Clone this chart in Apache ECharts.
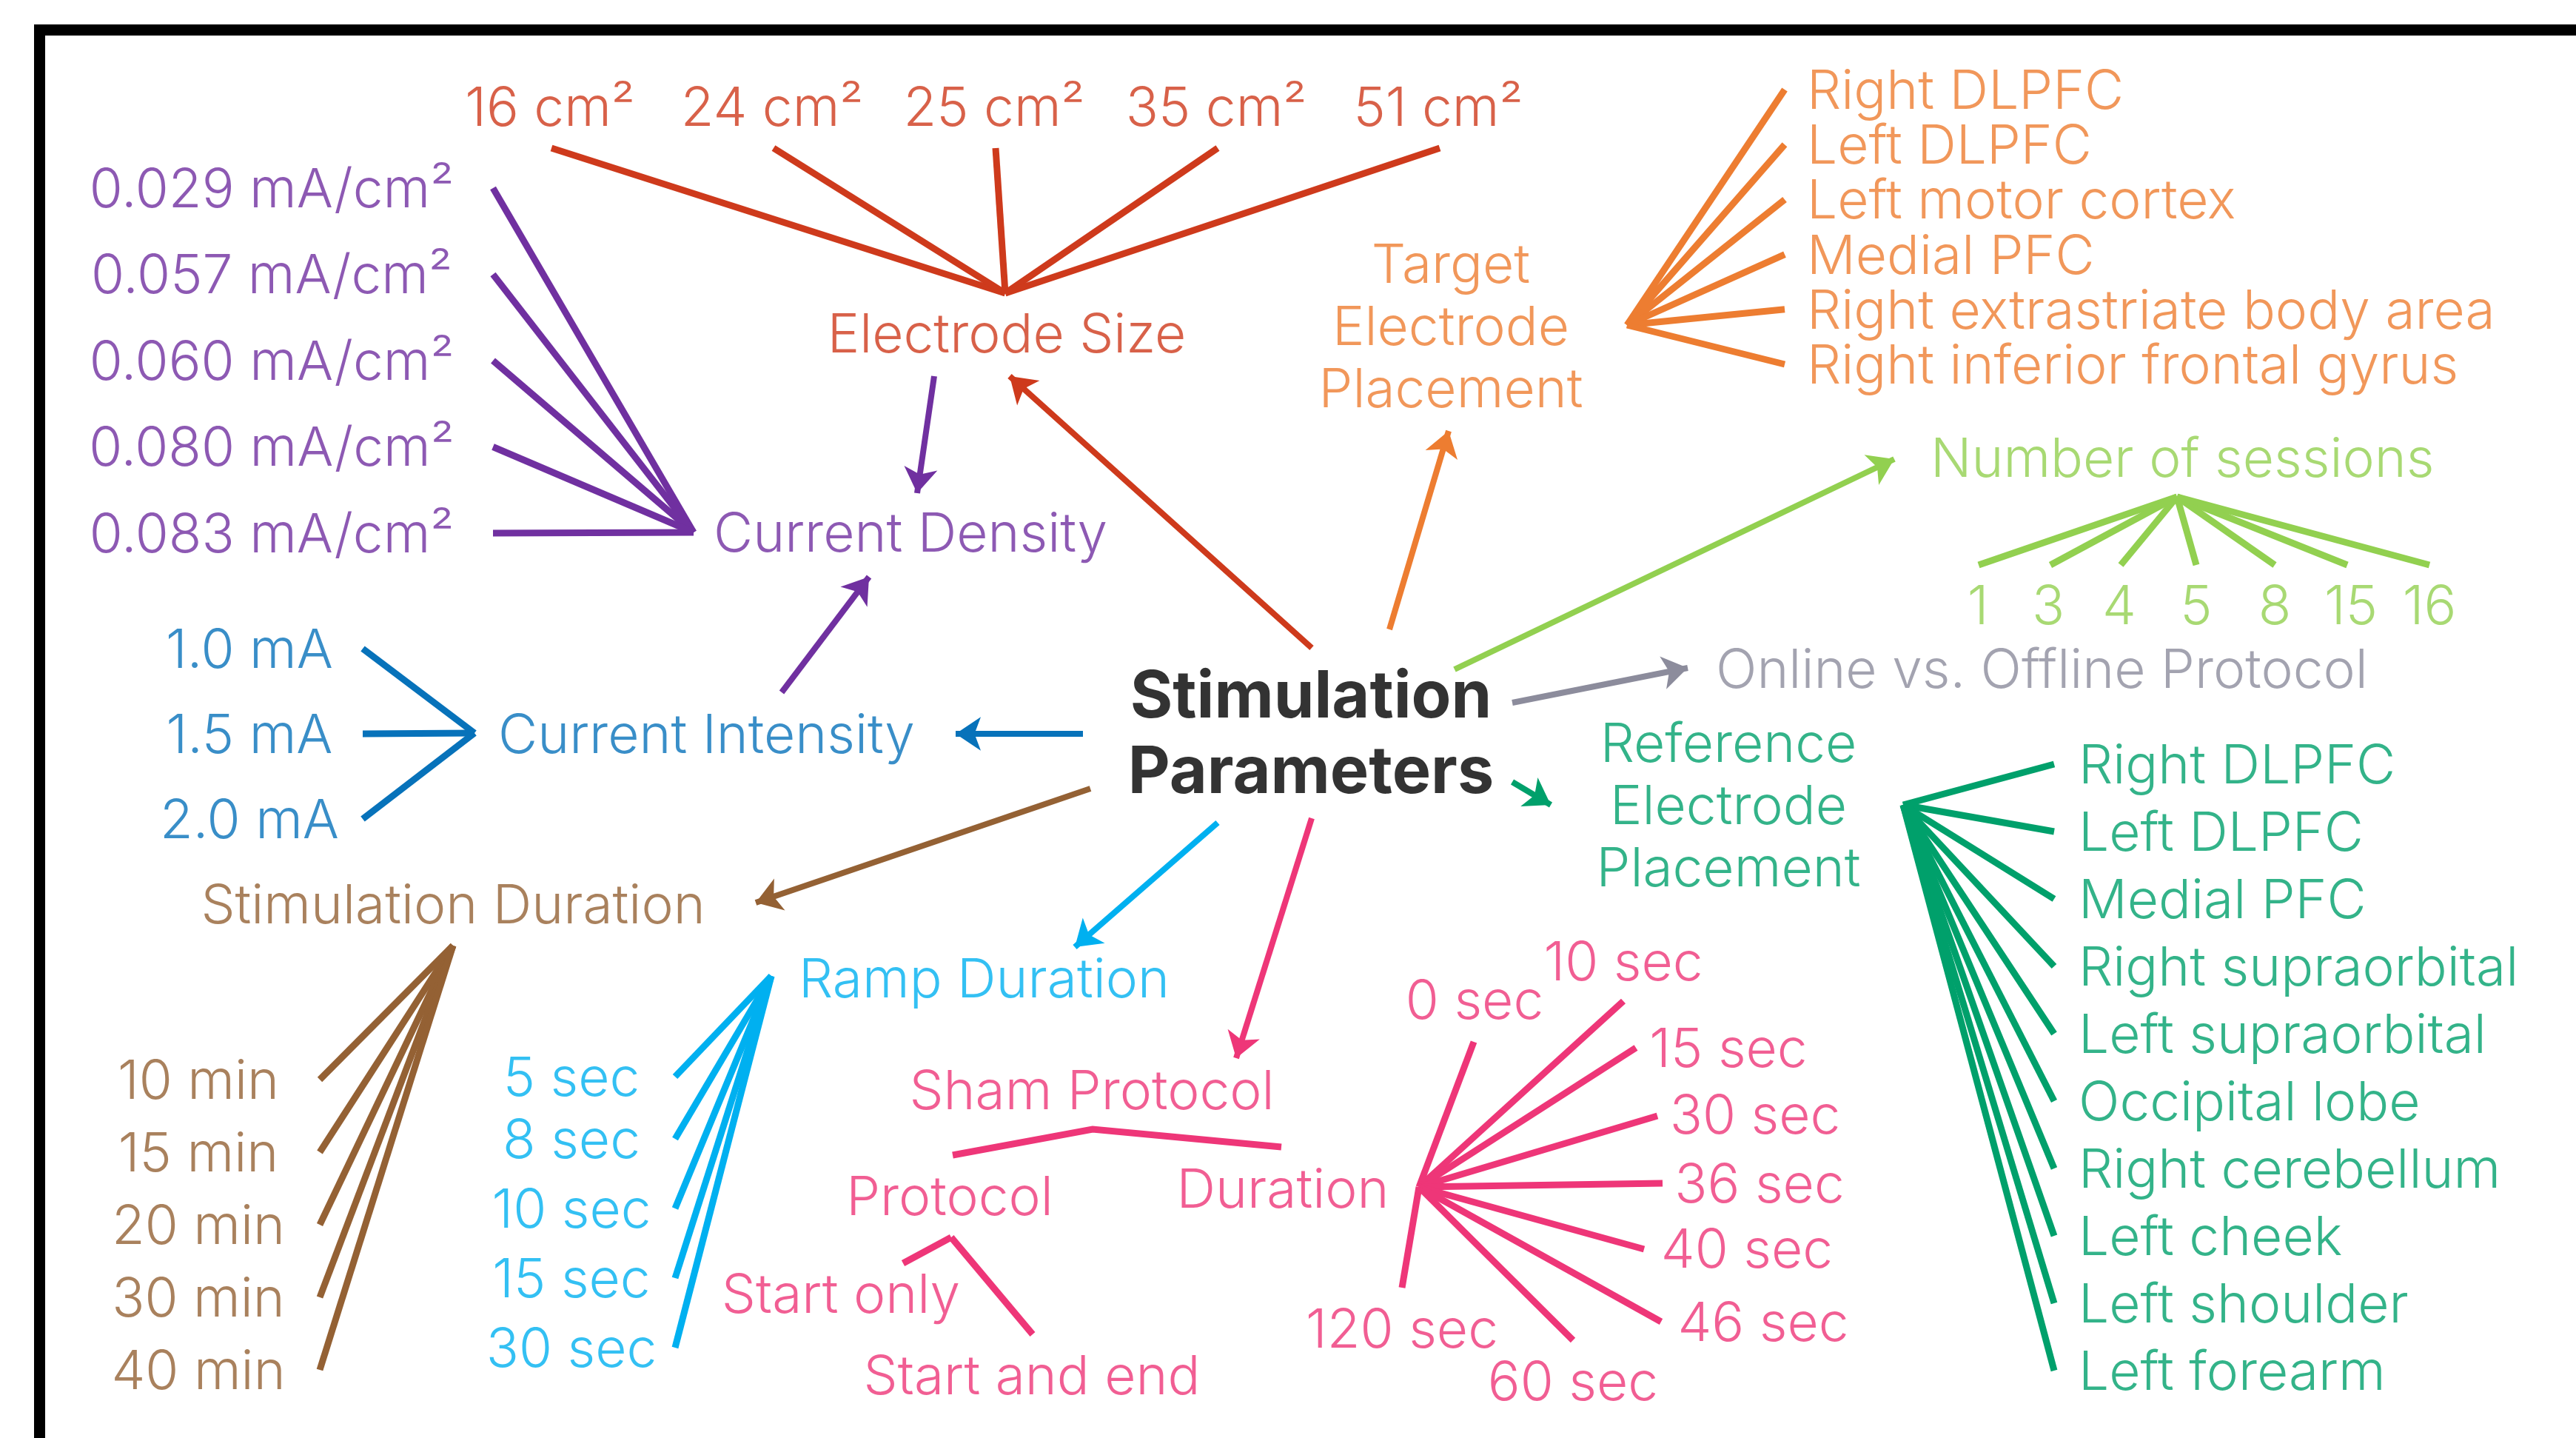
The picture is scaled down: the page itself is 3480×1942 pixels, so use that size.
<!DOCTYPE html>
<html>
<head>
<meta charset="utf-8">
<title>Stimulation Parameters</title>
<script src="https://cdn.jsdelivr.net/npm/echarts@6/dist/echarts.min.js"></script>
<style>
  html, body { margin: 0; padding: 0; background: #fff; }
  #chart { width: 3480px; height: 1942px; }
</style>
</head>
<body>
<div id="chart"></div>
<script>
// labels
var electrodeSizes = ['16 cm²', '24 cm²', '25 cm²', '35 cm²', '51 cm²'];
var currentDensities = ['0.029 mA/cm²', '0.057 mA/cm²', '0.060 mA/cm²', '0.080 mA/cm²', '0.083 mA/cm²'];
var currentIntensities = ['1.0 mA', '1.5 mA', '2.0 mA'];
var targetSites = ['Right DLPFC', 'Left DLPFC', 'Left motor cortex', 'Medial PFC', 'Right extrastriate body area', 'Right inferior frontal gyrus'];
var sessionCounts = ['1', '3', '4', '5', '8', '15', '16'];
var referenceSites = ['Right DLPFC', 'Left DLPFC', 'Medial PFC', 'Right supraorbital', 'Left supraorbital', 'Occipital lobe', 'Right cerebellum', 'Left cheek', 'Left shoulder', 'Left forearm'];
var stimDurations = ['10 min', '15 min', '20 min', '30 min', '40 min'];
var rampDurations = ['5 sec', '8 sec', '10 sec', '15 sec', '30 sec'];
var shamProtocols = ['Start only', 'Start and end'];
var shamDurations = ['0 sec', '10 sec', '15 sec', '30 sec', '36 sec', '40 sec', '46 sec', '60 sec', '120 sec'];

// colours
var RED = '#CE3A1C', PURPLE = '#7030A0', BLUE = '#0772BA', ORANGE = '#ED7D31',
    LGREEN = '#92D050', GRAY = '#8C8C9C', TEAL = '#00A06B', BROWN = '#946134',
    LBLUE = '#00B0F0', PINK = '#EE3678';

var FONT = 'Inter';
var FS = 73;

function seq(a, step, n) {
  var out = [];
  for (var i = 0; i < n; i++) out.push(a + i * step);
  return out;
}
function pick(v, i) { return Array.isArray(v) ? v[i] : v; }

// layout in canvas pixels (x right, y down)
var fans = [
  { labels: electrodeSizes, color: RED, hub: [1358, 396], align: 'center',
    labelX: seq(743, 300, 5), labelY: 144, tipX: seq(745, 300, 5), tipY: 200 },
  { labels: currentDensities, color: PURPLE, hub: [937, 719], align: 'center',
    labelX: 367, labelY: seq(254, 116.5, 5), tipX: 666, tipY: seq(254, 116.5, 5) },
  { labels: currentIntensities, color: BLUE, hub: [641, 990], align: 'center',
    labelX: 337, labelY: seq(876, 115, 3), tipX: 490, tipY: seq(876, 115, 3) },
  { labels: targetSites, color: ORANGE, hub: [2198, 439], align: 'left',
    labelX: 2441, labelY: seq(121, 74.2, 6), tipX: 2411, tipY: seq(121, 74.2, 6) },
  { labels: sessionCounts, color: LGREEN, hub: [2941, 671], align: 'center',
    labelX: [2672, 2767, 2863, 2967, 3073, 3176, 3282], labelY: 817,
    tipX: [2673, 2770, 2865, 2967, 3073, 3171, 3282], tipY: 763 },
  { labels: referenceSites, color: TEAL, hub: [2571, 1087], align: 'left',
    labelX: 2808, labelY: seq(1032, 91, 10), tipX: 2775, tipY: seq(1032, 91, 10) },
  { labels: stimDurations, color: BROWN, hub: [612, 1277], align: 'center',
    labelX: 268, labelY: seq(1458, 98, 5), tipX: 432, tipY: seq(1458, 98, 5) },
  { labels: rampDurations, color: LBLUE, hub: [1042, 1318], align: 'center',
    labelX: 772, labelY: [1454, 1538, 1632, 1726, 1820], tipX: 912, tipY: [1454, 1538, 1632, 1726, 1820] },
  { labels: shamProtocols, color: PINK, hub: [1285, 1671], align: 'center',
    labelX: [1136, 1394], labelY: [1747, 1857], tipX: [1220, 1395], tipY: [1706, 1802] },
  { labels: shamDurations, color: PINK, hub: [1917, 1603], align: 'center',
    labelX: [1992, 2193, 2335, 2371, 2377, 2360, 2382, 2125, 1894],
    labelY: [1350, 1298, 1415, 1505, 1598, 1686, 1785, 1865, 1794],
    tipX: [1991, 2193, 2210, 2239, 2246, 2221, 2244, 2125, 1894],
    tipY: [1407, 1352, 1415, 1507, 1598, 1687, 1785, 1810, 1739] }
];

var nodes = [
  { text: 'Electrode Size', color: RED, x: 1360, y: 450, align: 'center' },
  { text: 'Current Density', color: PURPLE, x: 964, y: 719, align: 'left' },
  { text: 'Current Intensity', color: BLUE, x: 673, y: 991, align: 'left' },
  { text: 'Target\nElectrode\nPlacement', color: ORANGE, x: 1960, y: 440, align: 'center' },
  { text: 'Number of sessions', color: LGREEN, x: 2608, y: 618, align: 'left' },
  { text: 'Online vs. Offline Protocol', color: GRAY, x: 2318, y: 903, align: 'left' },
  { text: 'Reference\nElectrode\nPlacement', color: TEAL, x: 2335, y: 1087, align: 'center' },
  { text: 'Stimulation Duration', color: BROWN, x: 612, y: 1221, align: 'center' },
  { text: 'Ramp Duration', color: LBLUE, x: 1079, y: 1321, align: 'left' },
  { text: 'Sham Protocol', color: PINK, x: 1475, y: 1472, align: 'center' },
  { text: 'Protocol', color: PINK, x: 1283, y: 1615, align: 'center' },
  { text: 'Duration', color: PINK, x: 1733, y: 1605, align: 'center' }
];

var arrows = [
  { color: RED, from: [1772, 875], to: [1364, 508] },
  { color: PURPLE, from: [1262, 508], to: [1239, 666] },
  { color: PURPLE, from: [1056, 935], to: [1174, 779] },
  { color: BLUE, from: [1463, 991], to: [1291, 991] },
  { color: ORANGE, from: [1877, 850], to: [1957, 582] },
  { color: LGREEN, from: [1965, 904], to: [2559, 620] },
  { color: GRAY, from: [2043, 949], to: [2280, 902] },
  { color: TEAL, from: [2043, 1056], to: [2095, 1087] },
  { color: BROWN, from: [1473, 1065], to: [1021, 1219] },
  { color: LBLUE, from: [1645, 1111], to: [1452, 1279] },
  { color: PINK, from: [1772, 1105], to: [1670, 1429] }
];

var shamBracket = [[1287, 1560], [1476, 1525], [1731, 1549]];

// build series data
var branchData = [];
var labelData = [];
fans.forEach(function (f) {
  f.labels.forEach(function (txt, i) {
    branchData.push({
      coords: [f.hub, [pick(f.tipX, i), pick(f.tipY, i)]],
      lineStyle: { color: f.color }
    });
    labelData.push({
      name: txt,
      value: [pick(f.labelX, i), pick(f.labelY, i)],
      label: { color: f.color, align: f.align }
    });
  });
});
nodes.forEach(function (n) {
  labelData.push({
    name: n.text,
    value: [n.x, n.y],
    label: { color: n.color, align: n.align, lineHeight: 84 }
  });
});
labelData.push({
  name: 'Stimulation\nParameters',
  value: [1771, 990],
  label: { color: '#000', align: 'center', fontWeight: 'bold', fontSize: 88, lineHeight: 102 }
});

var arrowData = arrows.map(function (a) {
  return { coords: [a.from, a.to], lineStyle: { color: a.color } };
});

var chart = echarts.init(document.getElementById('chart'));
chart.setOption({
  animation: false,
  backgroundColor: '#fff',
  grid: { left: 0, right: 0, top: 0, bottom: 0 },
  xAxis: { type: 'value', min: 0, max: 3480, show: false },
  yAxis: { type: 'value', min: 0, max: 1942, inverse: true, show: false },
  graphic: [
    { type: 'rect', shape: { x: 46, y: 33, width: 15, height: 1909 }, style: { fill: '#000' } },
    { type: 'rect', shape: { x: 46, y: 33, width: 3434, height: 15 }, style: { fill: '#000' } }
  ],
  series: [
    {
      type: 'lines',
      coordinateSystem: 'cartesian2d',
      lineStyle: { width: 9, opacity: 1 },
      data: branchData,
      silent: true
    },
    {
      type: 'lines',
      coordinateSystem: 'cartesian2d',
      polyline: true,
      lineStyle: { width: 9, opacity: 1, color: PINK },
      data: [{ coords: shamBracket }],
      silent: true
    },
    {
      type: 'lines',
      coordinateSystem: 'cartesian2d',
      symbol: ['none', 'arrow'],
      symbolSize: 34,
      lineStyle: { width: 8, opacity: 1 },
      data: arrowData,
      silent: true
    },
    {
      type: 'scatter',
      symbolSize: 1,
      itemStyle: { color: 'rgba(0,0,0,0)' },
      label: {
        show: true,
        position: 'inside',
        verticalAlign: 'middle',
        offset: [0, 4],
        fontFamily: FONT,
        fontWeight: 300,
        fontSize: FS,
        formatter: function (p) { return p.name; }
      },
      data: labelData,
      silent: true
    }
  ]
});
</script>
</body>
</html>
